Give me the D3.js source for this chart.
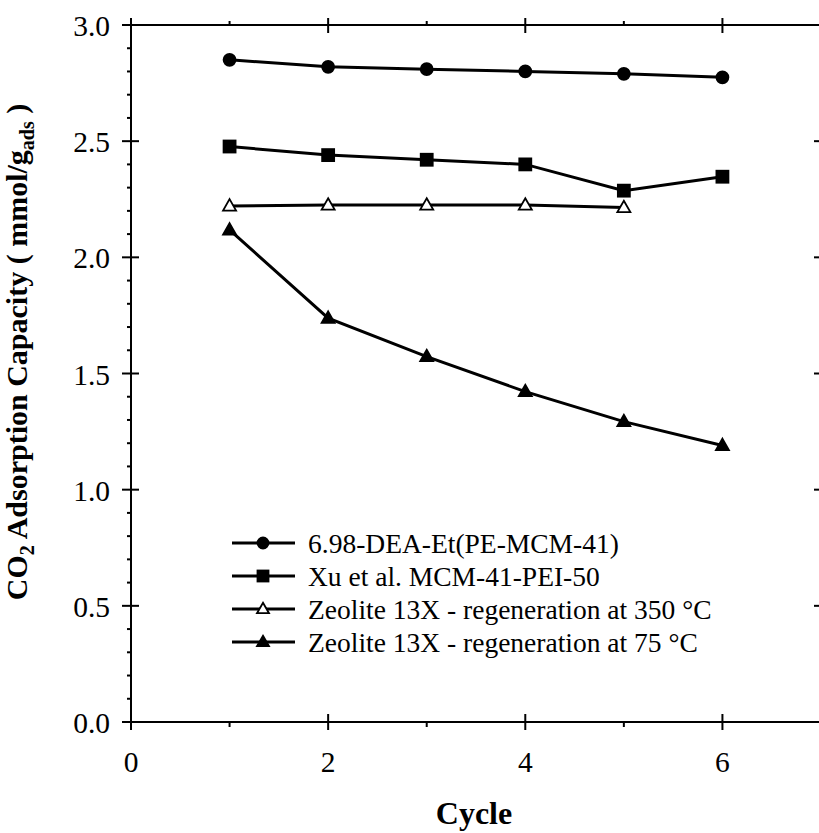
<!DOCTYPE html>
<html>
<head>
<meta charset="utf-8">
<script src="https://cdn.jsdelivr.net/npm/d3@7"></script>
<style>
  body { margin: 0; background: #fff; }
  svg { display: block; }
  svg text { font-family: "Liberation Serif", "Times New Roman", "DejaVu Serif", serif; fill: #000; }
</style>
</head>
<body>
<svg id="chart" width="819" height="833"></svg>
<script>
; (function () {

    // cycles and adsorption capacities (mmol/g)
    var cycles = [1, 2, 3, 4, 5, 6]
    var dea = [2.85, 2.82, 2.81, 2.80, 2.79, 2.775]
    var xu = [2.477, 2.44, 2.42, 2.40, 2.287, 2.347]
    var zeo350 = [2.221, 2.225, 2.225, 2.225, 2.214]
    var zeo75 = [2.118, 1.738, 1.573, 1.422, 1.293, 1.19]

    var names = [
        "6.98-DEA-Et(PE-MCM-41)",
        "Xu et al. MCM-41-PEI-50",
        "Zeolite 13X - regeneration at 350 \u00B0C",
        "Zeolite 13X - regeneration at 75 \u00B0C"
    ]
    var xMajor = [0, 2, 4, 6]
    var xMinor = [1, 3, 5, 7]
    var yMajor = [0, 0.5, 1.0, 1.5, 2.0, 2.5, 3.0]

    var series = [
        { name: names[0], values: dea, shape: "circle", fill: "#000" },
        { name: names[1], values: xu, shape: "square", fill: "#000" },
        { name: names[2], values: zeo350, shape: "triangle", fill: "#fff" },
        { name: names[3], values: zeo75, shape: "triangle", fill: "#000" }
    ]

    var svg = d3.select("#chart")
    var left = 131, right = 821, top = 25, bottom = 722

    var x = d3.scaleLinear().domain([0, 7]).range([left, right])
    var y = d3.scaleLinear().domain([0, 3]).range([bottom, top])

    var yMinor = d3.range(0, 30).map(function (d) { return d / 10 })
        .filter(function (d) { return Math.round(d * 10) % 5 !== 0 })

    // frame
    var ax = svg.append("g").attr("stroke", "#000").attr("stroke-width", 2)
    ax.append("rect").attr("x", left).attr("y", top)
        .attr("width", right - left).attr("height", bottom - top)
        .attr("fill", "none")

    // x ticks, bottom and top
    ax.selectAll(".xmaj").data(xMajor).enter().append("line")
        .attr("x1", x).attr("x2", x)
        .attr("y1", bottom - 8).attr("y2", bottom + 8)
    ax.selectAll(".xmajt").data(xMajor).enter().append("line")
        .attr("x1", x).attr("x2", x)
        .attr("y1", top - 7).attr("y2", top + 8)
    ax.selectAll(".xmin").data(xMinor).enter().append("line")
        .attr("x1", x).attr("x2", x)
        .attr("y1", bottom).attr("y2", bottom + 5)
    ax.selectAll(".xmint").data(xMinor).enter().append("line")
        .attr("x1", x).attr("x2", x)
        .attr("y1", top).attr("y2", top - 4)

    // y ticks, left and right
    ax.selectAll(".ymaj").data(yMajor).enter().append("line")
        .attr("x1", left - 9).attr("x2", left + 8)
        .attr("y1", y).attr("y2", y)
    ax.selectAll(".ymajr").data(yMajor).enter().append("line")
        .attr("x1", right - 7).attr("x2", right + 7)
        .attr("y1", y).attr("y2", y)
    ax.selectAll(".ymin").data(yMinor).enter().append("line")
        .attr("x1", left - 4).attr("x2", left)
        .attr("y1", y).attr("y2", y)

    // tick labels
    svg.append("g").selectAll("text").data(xMajor).enter().append("text")
        .attr("x", x).attr("y", 772)
        .attr("text-anchor", "middle").attr("font-size", 29.5)
        .text(function (d) { return d })
    svg.append("g").selectAll("text").data(yMajor).enter().append("text")
        .attr("x", 110).attr("y", function (d) { return y(d) + 11 })
        .attr("text-anchor", "end").attr("font-size", 29.5)
        .text(function (d) { return d.toFixed(1) })

    // axis titles
    svg.append("text")
        .attr("x", (left + right) / 2 - 2).attr("y", 824)
        .attr("text-anchor", "middle").attr("font-size", 32).attr("font-weight", "bold")
        .text("Cycle")

    var yt = svg.append("text")
        .attr("transform", "translate(27,352) rotate(-90)")
        .attr("text-anchor", "middle").attr("font-size", 30).attr("font-weight", "bold")
    yt.append("tspan").text("CO")
    yt.append("tspan").attr("font-size", 20).attr("dy", 7).text("2")
    yt.append("tspan").attr("dy", -7).text(" Adsorption Capacity ( mmol/g")
    yt.append("tspan").attr("font-size", 20).attr("dy", 7).text("ads")
    yt.append("tspan").attr("dy", -7).text(" )")

    // marker helper
    function marker(g, shape, fill, size) {
        if (shape === "circle") {
            g.append("circle").attr("r", size / 2)
        } else if (shape === "square") {
            g.append("rect").attr("x", -size / 2).attr("y", -size / 2)
                .attr("width", size).attr("height", size)
        } else {
            var h = size * 0.95
            g.append("path")
                .attr("d", "M0," + (-h * 0.6) + "L" + (size / 2 + 0.5) + "," + (h * 0.4) + "L" + (-size / 2 - 0.5) + "," + (h * 0.4) + "Z")
        }
        g.selectAll("*").attr("fill", fill).attr("stroke", "#000").attr("stroke-width", 1.8)
    }

    var line = d3.line()
        .x(function (d, i) { return x(cycles[i]) })
        .y(function (d) { return y(d) })

    series.forEach(function (s) {
        svg.append("path").datum(s.values)
            .attr("d", line)
            .attr("fill", "none").attr("stroke", "#000").attr("stroke-width", 3)
        s.values.forEach(function (v, i) {
            var g = svg.append("g").attr("transform", "translate(" + x(cycles[i]) + "," + y(v) + ")")
            marker(g, s.shape, s.fill, 12)
        })
    })

    // legend
    var legend = svg.append("g").attr("transform", "translate(232,543)")
    series.forEach(function (s, i) {
        var row = legend.append("g").attr("transform", "translate(0," + (i * 33) + ")")
        row.append("line").attr("x1", 0).attr("x2", 63).attr("y1", 0).attr("y2", 0)
            .attr("stroke", "#000").attr("stroke-width", 3)
        var g = row.append("g").attr("transform", "translate(31,0)")
        marker(g, s.shape, s.fill, 11)
        row.append("text").attr("x", 76).attr("y", 10)
            .attr("font-size", 27.5).text(s.name)
    })

})();
</script>
</body>
</html>
